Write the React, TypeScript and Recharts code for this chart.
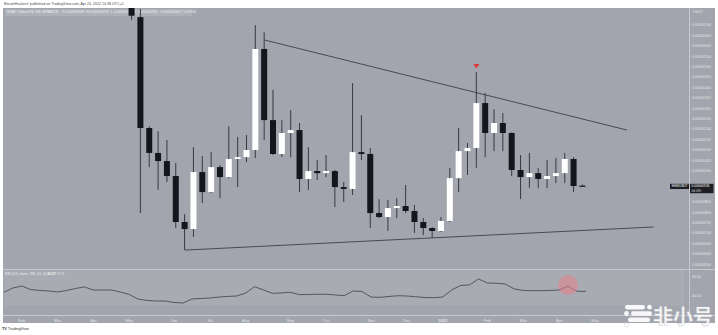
import React from 'react';
import {
  ComposedChart,
  Bar,
  Line,
  XAxis,
  YAxis,
  ReferenceLine,
  ReferenceArea,
  ReferenceDot,
} from 'recharts';

// ---------- data ----------
// prices are stored in units of 1e-8 USDT
const PRICE_UNIT = 1e-8;

const FIRST_WEEK = '2021-01-25';
const WEEK_COUNT = 77;
const CANDLE_START = '2021-05-03';
const RSI_START = '2021-01-25';

const opens = [2000, 1738, 1205, 1085, 1046, 974, 753, 719, 993, 897, 1017, 969, 1056, 1065, 1099, 1585, 1243, 1080, 1181, 1195, 960, 998, 988, 998, 921, 912, 1089, 1080, 796, 777, 820, 830, 806, 753, 724, 710, 758, 964, 1094, 1109, 1325, 1181, 1229, 1181, 1003, 969, 988, 960, 974, 988, 1056, 928];
const highs = [2300, 1778, 1214, 1190, 1147, 1037, 791, 1113, 1070, 1089, 1027, 1214, 1162, 1171, 1700, 1666, 1388, 1243, 1291, 1229, 1113, 1051, 1075, 1003, 945, 1421, 1267, 1109, 863, 859, 868, 931, 835, 772, 728, 777, 1013, 1205, 1133, 1474, 1373, 1296, 1277, 1185, 1075, 1085, 1013, 1051, 1061, 1085, 1065, 933];
const lows = [1725, 796, 1017, 907, 945, 724, 618, 681, 844, 892, 868, 964, 921, 1041, 1061, 1147, 1075, 1065, 1065, 897, 907, 955, 969, 825, 849, 883, 1051, 724, 772, 710, 772, 796, 700, 690, 676, 705, 753, 897, 979, 1013, 1065, 1094, 1094, 974, 863, 916, 916, 916, 940, 940, 897, 924];
const closes = [1745, 1205, 1085, 1046, 974, 753, 719, 993, 897, 1017, 969, 1056, 1065, 1099, 1585, 1243, 1080, 1181, 1195, 960, 998, 988, 998, 921, 912, 1089, 1080, 796, 777, 820, 830, 806, 753, 724, 710, 758, 964, 1094, 1109, 1325, 1181, 1229, 1181, 1003, 969, 988, 960, 974, 988, 1056, 926, 926];

const rsiValues = [43.7, 48.4, 50.5, 46.8, 45.8, 45.3, 44.2, 45.8, 47.9, 49.5, 46.3, 46.3, 46.3, 44.2, 41.6, 36.8, 35.3, 34.7, 34.7, 33.2, 32.6, 36.8, 37.4, 37.9, 38.9, 39.5, 40.0, 43.0, 49.8, 46.3, 42.8, 43.2, 43.9, 41.4, 41.6, 41.8, 41.8, 41.1, 40.3, 45.3, 44.7, 38.9, 38.6, 39.5, 40.3, 40.0, 39.2, 38.4, 38.2, 38.9, 46.3, 51.1, 51.6, 57.9, 53.7, 53.4, 52.6, 47.4, 45.8, 45.6, 45.6, 45.8, 46.3, 50.2, 44.9, 44.87];

const monthTickWeeks = ['2021-02-08', '2021-03-08', '2021-04-05', '2021-05-03', '2021-06-07', '2021-07-05', '2021-08-02', '2021-09-06', '2021-10-04', '2021-11-08', '2021-12-06', '2022-01-03', '2022-02-07', '2022-03-07', '2022-04-04', '2022-05-02'];
const monthTickLabels = ['Feb', 'Mar', 'Apr', 'May', 'Jun', 'Jul', 'Aug', 'Sep', 'Oct', 'Nov', 'Dec', '2022', 'Feb', 'Mar', 'Apr', 'May'];

const priceTicks = [1700, 1650, 1600, 1550, 1500, 1450, 1400, 1350, 1300, 1250, 1200, 1150, 1100, 1050, 1000, 850, 800, 750, 700, 650, 600, 550];
const rsiTicks = [60, 40];

const resistanceLine = [{ week: '2021-08-16', price: 1628 }, { week: '2022-05-30', price: 1195 }];
const supportLine = [{ week: '2021-06-14', price: 618 }, { week: '2022-06-20', price: 729 }];
const signalWeek = '2022-01-31';
const rsiHighlight = { week: '2022-04-11', value: 51.5 };

// ---------- build tables ----------
const DAY = 86400000;
const addWeeks = (start: string, n: number) =>
  new Date(Date.parse(start + 'T00:00:00Z') + n * 7 * DAY).toISOString().slice(0, 10);
const weeks = Array.from({ length: WEEK_COUNT }, (_, i) => addWeeks(FIRST_WEEK, i));
const candleOffset = weeks.indexOf(CANDLE_START);
const rsiOffset = weeks.indexOf(RSI_START);

const mainData = weeks.map((week, i) => {
  const c = i - candleOffset;
  const has = c >= 0 && c < opens.length;
  return {
    week,
    open: has ? opens[c] : null,
    high: has ? highs[c] : null,
    low: has ? lows[c] : null,
    close: has ? closes[c] : null,
    signal: week === signalWeek,
  };
});
const rsiData = weeks.map((week, i) => {
  const r = i - rsiOffset;
  return { week, rsi: r >= 0 && r < rsiValues.length ? rsiValues[r] : null };
});
const lastIdx = candleOffset + closes.length - 1;
const lastWeek = weeks[lastIdx];
const lastClose = closes[closes.length - 1];
const monthLabelMap: Record<string, string> = {};
monthTickWeeks.forEach((w, i) => (monthLabelMap[w] = monthTickLabels[i]));

// ---------- styles ----------
const BG = '#a2a5ad';
const AXIS_TEXT = '#e2e4e8';
const WICK = '#2b2e36';
const BLACK = '#14161c';
const FONT = '"Liberation Sans", Arial, sans-serif';
const SEP = '#c6c8cd';

const rangeKey = (d: any) => (d.open == null ? null : [d.low, d.high]);

const Candle = (props: any) => {
  const { x, y, width, height, payload } = props;
  if (!payload || payload.open == null || y == null || isNaN(y)) return null;
  const { open, close, high, low } = payload;
  const top = Math.min(y, y + height);
  const h = Math.abs(height);
  const py = (v: number) => top + ((high - v) / (high - low)) * h;
  const cx = x + width / 2;
  const up = close >= open;
  const bTop = py(Math.max(open, close));
  const bBot = py(Math.min(open, close));
  return (
    <g>
      <line x1={cx} x2={cx} y1={top} y2={top + h} stroke={WICK} strokeWidth={0.9} />
      <rect x={x} y={bTop} width={width} height={Math.max(bBot - bTop, 1.2)} fill={up ? '#ffffff' : BLACK} />
      {payload.signal && (
        <path d={`M${cx - 3},${top - 8} L${cx + 3},${top - 8} L${cx},${top - 3.5} Z`} fill="#df3a35" />
      )}
    </g>
  );
};

const PriceTick = (props: any) => {
  const { y, payload } = props;
  return (
    <text x={692} y={y} dy={1.3} fontSize={3.6} fill={AXIS_TEXT} fontFamily={FONT}>
      {(payload.value * PRICE_UNIT).toFixed(8)}
    </text>
  );
};
const RsiTick = (props: any) => {
  const { y, payload } = props;
  return (
    <text x={692} y={y} dy={1.3} fontSize={3.6} fill={AXIS_TEXT} fontFamily={FONT}>
      {payload.value.toFixed(2)}
    </text>
  );
};
const MonthTick = (props: any) => {
  const { x, y, payload } = props;
  const label = monthLabelMap[payload.value];
  return (
    <text x={x} y={y + 5.4} fontSize={4} fill={AXIS_TEXT} textAnchor="middle" fontFamily={FONT} fontWeight={label === '2022' ? 700 : 400}>
      {label}
    </text>
  );
};

const PriceBox = (props: any) => {
  const { cy } = props;
  if (cy == null) return null;
  return (
    <g fontFamily={FONT}>
      <rect x={670} y={cy - 2.2} width={19} height={5.2} fill="#1d1f25" />
      <text x={679.5} y={cy + 1.2} fontSize={3.2} fill="#ffffff" textAnchor="middle">SHIBUSDT</text>
      <rect x={689.5} y={cy - 2.2} width={24} height={9.4} fill="#1d1f25" />
      <text x={691.5} y={cy + 1.2} fontSize={3.4} fill="#ffffff">{(lastClose * PRICE_UNIT).toFixed(8)}</text>
      <text x={691.5} y={cy + 5.6} fontSize={3.2} fill="#d8dade">0d 09h</text>
    </g>
  );
};

const RsiCircle = (props: any) => {
  const { cx, cy } = props;
  return <circle cx={cx} cy={cy} r={10} fill="#ee7d88" fillOpacity={0.5} />;
};

export default function App() {
  return (
    <div style={{ position: 'absolute', left: 0, top: 0, width: 718, height: 335, background: '#ffffff', overflow: 'hidden', fontFamily: FONT }}>
      <div style={{ position: 'absolute', left: 3, top: 8, width: 712, height: 315, background: BG }} />
      {/* legend band */}
      <div style={{ position: 'absolute', left: 5, top: 9, width: 187, height: 6.5, background: 'rgba(255,255,255,0.14)' }} />
      <div style={{ position: 'absolute', left: 7, top: 9.6, fontSize: 3.6, lineHeight: '5px', color: '#eef0f3', whiteSpace: 'nowrap' }}>
        SHIB / TetherUS, 1W, BINANCE &nbsp;&nbsp;O 0.00000928 &nbsp;H 0.00000933 &nbsp;L 0.00000924 &nbsp;C 0.00000926 &nbsp;−0.00000002 (−0.19%)
      </div>
      <div style={{ position: 'absolute', left: 0, top: 0 }}>
        <ComposedChart width={718} height={269} data={mainData} margin={{ top: 8, right: 3.5, bottom: 0, left: 3.8 }}>
          <XAxis dataKey="week" type="category" hide />
          <YAxis
            orientation="right"
            width={30}
            domain={[527, 1782]}
            allowDataOverflow
            ticks={priceTicks}
            interval={0}
            tick={<PriceTick />}
            axisLine={false}
            tickLine={false}
            tickSize={0}
          />
          <ReferenceLine
            segment={[{ x: resistanceLine[0].week, y: resistanceLine[0].price }, { x: resistanceLine[1].week, y: resistanceLine[1].price }]}
            stroke="#3d4048"
            strokeWidth={0.9}
          />
          <ReferenceLine
            segment={[{ x: supportLine[0].week, y: supportLine[0].price }, { x: supportLine[1].week, y: supportLine[1].price }]}
            stroke="#3d4048"
            strokeWidth={0.9}
          />
          <Bar dataKey={rangeKey} shape={Candle} barSize={6} isAnimationActive={false} />
          <ReferenceDot x={lastWeek} y={lastClose} shape={PriceBox} />
        </ComposedChart>
      </div>
      <div style={{ position: 'absolute', left: 0, top: 269 }}>
        <ComposedChart width={718} height={66} data={rsiData} margin={{ top: 0, right: 3.5, bottom: 12, left: 3.8 }}>
          <XAxis
            dataKey="week"
            type="category"
            ticks={monthTickWeeks}
            interval={0}
            tick={<MonthTick />}
            axisLine={false}
            tickLine={false}
            tickSize={0}
            height={8}
          />
          <YAxis
            orientation="right"
            width={30}
            domain={[20, 68.4]}
            allowDataOverflow
            ticks={rsiTicks}
            interval={0}
            tick={<RsiTick />}
            axisLine={false}
            tickLine={false}
            tickSize={0}
          />
          <ReferenceArea y1={30} y2={70} ifOverflow="hidden" fill="#ffffff" fillOpacity={0.07} stroke="none" />
          <Line dataKey="rsi" stroke="#4a4d56" strokeWidth={0.9} dot={false} isAnimationActive={false} />
          <ReferenceDot x={rsiHighlight.week} y={rsiHighlight.value} shape={RsiCircle} />
        </ComposedChart>
      </div>
      {/* panel separators */}
      <div style={{ position: 'absolute', left: 3, top: 269, width: 712, height: 1, background: SEP }} />
      <div style={{ position: 'absolute', left: 3, top: 315, width: 712, height: 1, background: SEP }} />
      <div style={{ position: 'absolute', left: 689, top: 8, width: 1, height: 315, background: SEP }} />
      {/* header */}
      <div style={{ position: 'absolute', left: 0, top: 0, width: 718, height: 8, background: '#ffffff' }} />
      <div style={{ position: 'absolute', left: 4, top: 2, fontSize: 3.6, lineHeight: '4px', color: '#4a4a4a', whiteSpace: 'nowrap' }}>
        BitcoinHackers! published on TradingView.com, Apr 24, 2022 14:38 UTC+0
      </div>
      <div style={{ position: 'absolute', left: 693, top: 10, fontSize: 3.6, lineHeight: '4px', color: AXIS_TEXT }}>USDT</div>
      <div style={{ position: 'absolute', left: 5, top: 272, fontSize: 3.6, lineHeight: '4px', color: '#eef0f3', whiteSpace: 'nowrap' }}>
        RSI (14, close, 1W, 14, 2) <b>44.87</b> ∅ ∅
      </div>
      <div style={{ position: 'absolute', left: 2, top: 327, fontSize: 3.8, lineHeight: '4px', color: '#333', whiteSpace: 'nowrap' }}>
        <b>TV</b> TradingView
      </div>
      {/* watermark */}
      <svg style={{ position: 'absolute', left: 620, top: 300 }} width={98} height={34}>
        <rect x={5} y={5} width={20} height={4.5} rx={2.2} fill="#ffffff" fillOpacity={0.92} />
        <circle cx={29.5} cy={7.2} r={2.4} fill="#ffffff" fillOpacity={0.92} />
        <circle cx={6.5} cy={13.5} r={2.4} fill="#ffffff" fillOpacity={0.92} />
        <rect x={11} y={11.3} width={21} height={4.5} rx={2.2} fill="#ffffff" fillOpacity={0.92} />
        <rect x={8} y={17.6} width={22} height={4.5} rx={2.2} fill="#ffffff" fillOpacity={0.92} />
        <circle cx={6.5} cy={25} r={2.2} fill="#ffffff" fillOpacity={0.92} stroke="#cfd1d5" strokeWidth={0.5} />
        <text x={33} y={24} fontSize={20} fontWeight={700} fill="#ffffff" fillOpacity={0.93} stroke="#b9bbc0" strokeWidth={0.4} fontFamily='"Noto Sans CJK SC", sans-serif'>
          非小号
        </text>
      </svg>
    </div>
  );
}
